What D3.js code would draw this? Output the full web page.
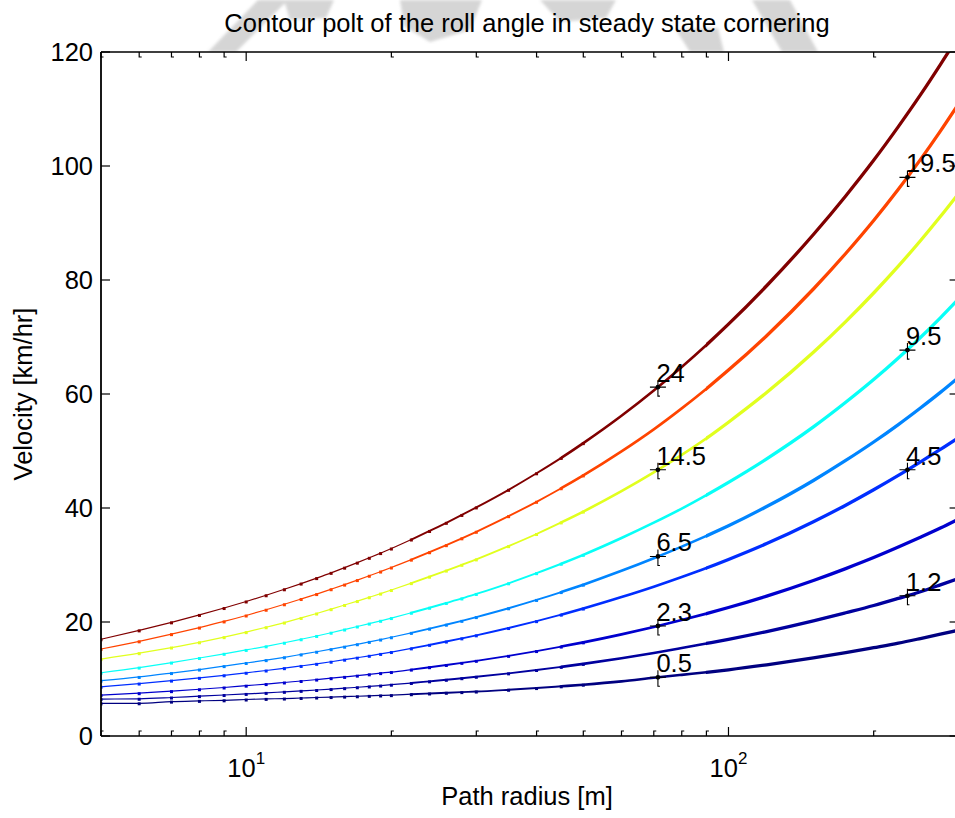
<!DOCTYPE html>
<html>
<head>
<meta charset="utf-8">
<script src="https://cdn.jsdelivr.net/npm/d3@7"></script>
<style>
  html, body { margin: 0; padding: 0; background: #fff; }
  svg { display: block; font-family: "Liberation Sans", Arial, Helvetica, sans-serif; }
</style>
</head>
<body>
<svg id="chart" width="955" height="818"></svg>
<script>
// Path radius grid [m]
const radius = [5,6,7,8,9,10,11,12,13,14,15,16,17,18,19,20,22,24,26,28,30,35,40,45,50,60,70,80,90,100,120,150,175,200,225,250,275,300];

// Velocity [km/hr] along each roll-angle contour, one value per radius
const speed24   = [16.97,18.53,19.94,21.24,22.45,23.60,24.69,25.74,26.74,27.70,28.62,29.53,30.41,31.26,32.09,32.89,34.47,35.97,37.40,38.78,40.10,43.19,46.09,48.79,51.38,56.18,60.62,64.75,68.61,72.25,78.99,87.98,94.75,101.0,106.91,112.47,117.79,122.84];
const speed19_5 = [15.26,16.61,17.87,19.02,20.10,21.14,22.15,23.11,24.03,24.90,25.75,26.56,27.35,28.11,28.85,29.56,30.94,32.24,33.48,34.68,35.83,38.57,41.09,43.47,45.72,49.93,53.80,57.48,60.93,64.19,70.23,78.42,84.65,90.44,95.93,101.12,106.12,110.91];
const speed14_5 = [13.49,14.53,15.52,16.44,17.34,18.22,19.08,19.90,20.71,21.49,22.25,22.98,23.67,24.34,24.98,25.61,26.82,27.95,29.02,30.03,30.98,33.31,35.44,37.47,39.37,42.95,46.24,49.32,52.22,55.05,60.25,67.31,72.70,77.72,82.43,86.89,91.13,95.18];
const speed9_5  = [11.09,12.00,12.88,13.68,14.42,15.10,15.73,16.36,16.97,17.55,18.12,18.68,19.21,19.72,20.21,20.69,21.62,22.50,23.34,24.13,24.92,26.79,28.57,30.22,31.78,34.73,37.42,39.90,42.27,44.50,48.62,54.22,58.54,62.53,66.32,69.91,73.36,76.68];
const speed6_5  = [9.70,10.36,11.04,11.66,12.26,12.81,13.31,13.81,14.31,14.78,15.23,15.67,16.10,16.51,16.92,17.32,18.09,18.83,19.53,20.20,20.86,22.41,23.87,25.25,26.55,28.98,31.19,33.23,35.11,36.88,40.25,44.83,48.34,51.58,54.64,57.55,60.29,62.93];
const speed4_5  = [8.63,9.20,9.72,10.20,10.65,11.09,11.49,11.90,12.29,12.66,13.03,13.39,13.74,14.07,14.40,14.73,15.37,15.99,16.57,17.13,17.66,18.94,20.15,21.29,22.36,24.37,26.19,27.89,29.47,30.98,33.76,37.59,40.49,43.20,45.72,48.09,50.27,52.34];
const speed2_3  = [7.18,7.51,7.87,8.20,8.51,8.83,9.11,9.39,9.65,9.90,10.14,10.37,10.59,10.82,11.03,11.22,11.65,12.07,12.46,12.83,13.19,14.06,14.90,15.69,16.43,17.83,19.13,20.34,21.47,22.54,24.54,27.28,29.37,31.30,33.14,34.86,36.48,38.07];
const speed1_2  = [6.48,6.53,6.75,6.99,7.19,7.38,7.56,7.75,7.92,8.07,8.23,8.39,8.55,8.69,8.85,9.00,9.30,9.59,9.86,10.14,10.39,10.99,11.58,12.13,12.65,13.64,14.56,15.44,16.24,16.97,18.33,20.20,21.62,22.89,24.14,25.30,26.51,27.66];
const speed0_5  = [5.72,5.74,6.03,6.16,6.26,6.40,6.51,6.57,6.67,6.75,6.83,6.91,6.97,7.04,7.11,7.17,7.33,7.46,7.58,7.70,7.80,8.11,8.41,8.72,9.00,9.58,10.21,10.73,11.18,11.62,12.49,13.69,14.61,15.49,16.29,17.10,17.86,18.57];

// Contour levels (roll angle, deg) matching the series above
const levels = [24, 19.5, 14.5, 9.5, 6.5, 4.5, 2.3, 1.2, 0.5];
const speedSeries = [speed24, speed19_5, speed14_5, speed9_5, speed6_5, speed4_5, speed2_3, speed1_2, speed0_5];

// Inline contour labels: level, radius and speed of the label point
const labelLevel  = [24, 14.5, 6.5, 2.3, 0.5, 19.5, 9.5, 4.5, 1.2];
const labelRadius = [71.4, 71.4, 71.4, 71.4, 71.4, 235, 235, 235, 235];
const labelSpeed  = [61.2, 46.7, 31.5, 19.3, 10.3, 98.0, 67.7, 46.7, 24.6];

// Axis ticks
const yTicks = [0, 20, 40, 60, 80, 100, 120];
const xMajorTicks = [10, 100];
const xMajorExp = ["1", "2"];
const xMinorTicks = [5,6,7,8,9,20,30,40,50,60,70,80,90,200,300];

const titleText = "Contour polt of the roll angle in steady state cornering";
const xLabelText = "Path radius [m]";
const yLabelText = "Velocity [km/hr]";

// ---------------------------------------------------------------------------
const svg = d3.select("#chart");
const plot = { left: 101, right: 958.6, top: 52, bottom: 736 };
const FONT = 25.5;

const x = d3.scaleLog().domain([5, 300]).range([plot.left, plot.right]);
const y = d3.scaleLinear().domain([0, 120]).range([plot.bottom, plot.top]);

// MATLAB-style jet colormap over the contour level range
function jet(t) {
  const c = v => Math.max(0, Math.min(1, v));
  const r = c(1.5 - Math.abs(4 * t - 3));
  const g = c(1.5 - Math.abs(4 * t - 2));
  const b = c(1.5 - Math.abs(4 * t - 1));
  return d3.rgb(r * 255, g * 255, b * 255).formatHex();
}
const levelToUnit = d3.scaleLinear().domain([d3.min(levels), d3.max(levels)]).range([0, 1]);
const color = lv => jet(levelToUnit(lv));

svg.append("rect").attr("width", 955).attr("height", 818).attr("fill", "#fff");

// faint background seal behind the title
const defs = svg.append("defs");
defs.append("filter").attr("id", "soft")
  .append("feGaussianBlur").attr("stdDeviation", 1.6);
const seal = svg.append("g").attr("filter", "url(#soft)").attr("fill", "#c8c8c8").attr("opacity", 0.75);
const sealShapes = [
  [[208,52],[236,52],[288,0],[258,0]],
  [[284,0],[334,0],[326,18],[290,20]],
  [[400,0],[482,0],[470,30],[430,42],[404,26]],
  [[540,0],[616,0],[606,18],[560,22]],
  [[676,30],[718,28],[724,52],[690,52]],
  [[752,0],[790,0],[818,52],[782,52]]
];
sealShapes.forEach(pts => seal.append("path").attr("d", d3.line()(pts) + "Z"));

// plot area
svg.append("rect")
  .attr("x", plot.left).attr("y", plot.top)
  .attr("width", plot.right - plot.left).attr("height", plot.bottom - plot.top)
  .attr("fill", "#fff");

// clip bands: the contour stroke thickens toward large radius
const bands = [
  { from: 5,  to: 22,  w: 1.2 },
  { from: 22, to: 45,  w: 1.9 },
  { from: 45, to: 90,  w: 2.6 },
  { from: 90, to: 300, w: 3.3 }
];
bands.forEach((b, i) => {
  defs.append("clipPath").attr("id", "band" + i)
    .append("rect")
    .attr("x", x(b.from) - (i ? 0.5 : 0)).attr("y", plot.top)
    .attr("width", x(b.to) - x(b.from) + 1).attr("height", plot.bottom - plot.top);
});
defs.append("clipPath").attr("id", "plotclip")
  .append("rect").attr("x", plot.left).attr("y", plot.top)
  .attr("width", plot.right - plot.left).attr("height", plot.bottom - plot.top);

const series = levels.map((lv, k) => ({
  level: lv,
  points: radius.map((r, i) => [r, speedSeries[k][i]])
}));

const line = d3.line()
  .x(d => x(d[0]))
  .y(d => y(d[1]))
  .curve(d3.curveMonotoneX);

const curves = svg.append("g").attr("clip-path", "url(#plotclip)");
series.slice().reverse().forEach(s => {
  const g = curves.append("g");
  bands.forEach((b, i) => {
    g.append("path")
      .attr("d", line(s.points))
      .attr("fill", "none")
      .attr("stroke", color(s.level))
      .attr("stroke-width", b.w)
      .attr("stroke-linejoin", "round")
      .attr("clip-path", `url(#band${i})`);
  });
  // vertex markers on the coarse part of the contour
  g.selectAll("rect.vx")
    .data(s.points.filter(p => p[0] <= 50))
    .join("rect")
    .attr("class", "vx")
    .attr("x", d => x(d[0]) - 1.5)
    .attr("y", d => y(d[1]) - 1)
    .attr("width", 3).attr("height", 3)
    .attr("fill", color(s.level));
});

// axes box
const axes = svg.append("g").attr("stroke", "#000").attr("fill", "none");
axes.append("path").attr("stroke-width", 1.8)
  .attr("d", `M${plot.left},${plot.top}V${plot.bottom}`);
axes.append("path").attr("stroke-width", 1.6)
  .attr("d", `M${plot.left},${plot.top}H${plot.right}M${plot.left},${plot.bottom}H${plot.right}M${plot.right},${plot.top}V${plot.bottom}`);

// y ticks (both sides, inward)
const tickG = svg.append("g").attr("stroke", "#000").attr("stroke-width", 1.2);
yTicks.forEach(v => {
  tickG.append("line").attr("x1", plot.left).attr("x2", plot.left + 9).attr("y1", y(v)).attr("y2", y(v));
  tickG.append("line").attr("x1", plot.right).attr("x2", plot.right - 9).attr("y1", y(v)).attr("y2", y(v));
});
// x ticks (top and bottom, inward)
xMajorTicks.forEach(r => {
  tickG.append("line").attr("x1", x(r)).attr("x2", x(r)).attr("y1", plot.bottom).attr("y2", plot.bottom - 9);
  tickG.append("line").attr("x1", x(r)).attr("x2", x(r)).attr("y1", plot.top).attr("y2", plot.top + 9);
});
xMinorTicks.forEach(r => {
  tickG.append("path").attr("fill", "none")
    .attr("d", `M${x(r)},${plot.bottom}V${plot.bottom - 5}h2.5`);
  tickG.append("path").attr("fill", "none")
    .attr("d", `M${x(r)},${plot.top}V${plot.top + 5}h2.5`);
});

// tick labels
svg.append("g").selectAll("text")
  .data(yTicks).join("text")
  .attr("x", 93).attr("y", d => y(d) + 9)
  .attr("text-anchor", "end")
  .attr("font-size", FONT)
  .attr("fill", "#000")
  .text(d => d);

xMajorTicks.forEach((r, i) => {
  const t = svg.append("text")
    .attr("x", x(r)).attr("y", 777)
    .attr("text-anchor", "middle")
    .attr("font-size", FONT).attr("fill", "#000");
  t.append("tspan").text("10");
  t.append("tspan").attr("dy", -13).attr("font-size", 17).text(xMajorExp[i]);
});

// contour labels
const lab = svg.append("g");
labelLevel.forEach((lv, i) => {
  const px = x(labelRadius[i]), py = y(labelSpeed[i]);
  lab.append("path")
    .attr("d", `M${px - 8},${py}H${px + 8}M${px},${py - 7}V${py + 9}h2`)
    .attr("stroke", "#000").attr("stroke-width", 1.1).attr("fill", "none");
  lab.append("circle").attr("cx", px).attr("cy", py).attr("r", 2.4).attr("fill", "#000");
  lab.append("text")
    .attr("x", px - 1.5).attr("y", py - 5)
    .attr("font-size", FONT).attr("fill", "#000")
    .text(lv);
});

// titles
svg.append("text")
  .attr("x", 527).attr("y", 32)
  .attr("text-anchor", "middle")
  .attr("font-size", FONT).attr("fill", "#000")
  .text(titleText);

svg.append("text")
  .attr("x", 527).attr("y", 805)
  .attr("text-anchor", "middle")
  .attr("font-size", FONT).attr("fill", "#000")
  .text(xLabelText);

svg.append("text")
  .attr("transform", `translate(32,${(plot.top + plot.bottom) / 2}) rotate(-90)`)
  .attr("text-anchor", "middle")
  .attr("font-size", FONT).attr("fill", "#000")
  .text(yLabelText);
</script>
</body>
</html>
